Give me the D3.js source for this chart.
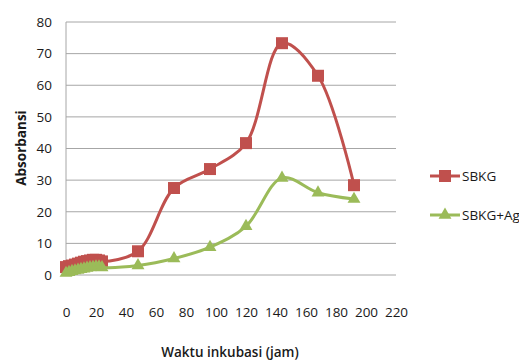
<!DOCTYPE html>
<html>
<head>
<meta charset="utf-8">
<script src="https://cdn.jsdelivr.net/npm/d3@7"></script>
<style>
  html, body { margin: 0; padding: 0; background: #fff; }
  svg text { font-family: "Open Sans", "Liberation Sans", sans-serif; fill: #1a1a1a; }
</style>
</head>
<body>
<svg id="chart" width="519" height="360"></svg>
<script>
// Incubation time (hours)
const hours = [0, 2, 4, 6, 8, 10, 12, 14, 16, 18, 20, 22, 24, 48, 72, 96, 120, 144, 168, 192];
// Absorbance, SBKG
const sbkg = [2.5, 2.8, 3, 3.3, 3.6, 3.9, 4.2, 4.4, 4.6, 4.8, 4.8, 4.6, 4.3, 7.5, 27.5, 33.5, 41.7, 73.3, 63, 28.4];
// Absorbance, SBKG+Ag
const sbkgAg = [0.6, 0.9, 1.2, 1.4, 1.6, 1.8, 2, 2.2, 2.4, 2.5, 2.6, 2.6, 2.4, 3, 5.2, 8.8, 15.4, 30.7, 26, 24];
const seriesNames = ["SBKG", "SBKG+Ag"];
const seriesColors = ["#C0504D", "#9BBB59"];
const xTicks = [0, 20, 40, 60, 80, 100, 120, 140, 160, 180, 200, 220];
const yTicks = [0, 10, 20, 30, 40, 50, 60, 70, 80];

const svg = d3.select("#chart");
const x = d3.scaleLinear().domain([0, 220]).range([66, 396]);
const y = d3.scaleLinear().domain([0, 80]).range([275, 22]);

// horizontal gridlines
svg.append("g").selectAll("line").data(yTicks).join("line")
  .attr("x1", x(0)).attr("x2", x(220))
  .attr("y1", d => y(d)).attr("y2", d => y(d))
  .attr("stroke", "#a6a6a6").attr("stroke-width", 1);

// vertical axis line
svg.append("line")
  .attr("x1", x(0)).attr("x2", x(0)).attr("y1", y(80)).attr("y2", y(0))
  .attr("stroke", "#a6a6a6").attr("stroke-width", 1);

// y tick labels
const yAxis = d3.axisLeft(y).tickValues(yTicks).tickSize(0).tickPadding(14);
const gy = svg.append("g").attr("transform", `translate(${x(0)},0)`).call(yAxis);
gy.select(".domain").remove();
gy.selectAll("text").attr("font-size", 13.5).style("font-family", "'Open Sans', sans-serif").attr("fill", "#1a1a1a");

// x tick labels (placed below the plot)
const xAxis = d3.axisBottom(x).tickValues(xTicks).tickSize(0).tickPadding(0);
const gx = svg.append("g").attr("transform", "translate(0,307)").call(xAxis);
gx.select(".domain").remove();
gx.selectAll("text").attr("font-size", 13.5).style("font-family", "'Open Sans', sans-serif").attr("fill", "#1a1a1a");

// axis titles
svg.append("text")
  .attr("x", 230).attr("y", 357)
  .attr("text-anchor", "middle").attr("font-size", 13.5).attr("font-weight", 600)
  .text("Waktu inkubasi (jam)");
svg.append("text")
  .attr("transform", "translate(26,148) rotate(-90)")
  .attr("text-anchor", "middle").attr("font-size", 13.5).attr("font-weight", 700)
  .text("Absorbansi");

const line = d3.line()
  .x(d => x(d[0])).y(d => y(d[1]))
  .curve(d3.curveCatmullRom.alpha(0.5));

const series = [sbkg, sbkgAg].map((vals, i) => ({
  name: seriesNames[i], color: seriesColors[i],
  points: hours.map((h, j) => [h, vals[j]])
}));

const sq = d3.symbol().type(d3.symbolSquare).size(144)();
const tri = d3.symbol().type(d3.symbolTriangle).size(72)();
const shapes = [sq, tri];

series.forEach((s, i) => {
  svg.append("path")
    .attr("d", line(s.points))
    .attr("fill", "none").attr("stroke", s.color).attr("stroke-width", 3);
  svg.append("g").selectAll("path").data(s.points).join("path")
    .attr("d", shapes[i])
    .attr("transform", d => `translate(${x(d[0])},${y(d[1])})`)
    .attr("fill", s.color);
});

// legend
const legendY = [176, 215];
series.forEach((s, i) => {
  const g = svg.append("g").attr("transform", `translate(430,${legendY[i]})`);
  g.append("line").attr("x1", 0).attr("x2", 30).attr("y1", 0).attr("y2", 0)
    .attr("stroke", s.color).attr("stroke-width", 3);
  g.append("path").attr("d", shapes[i]).attr("transform", "translate(15,0)").attr("fill", s.color);
  g.append("text").attr("x", 32).attr("y", 0).attr("dy", "0.35em")
    .attr("font-size", 13.5).text(s.name);
});
</script>
</body>
</html>
